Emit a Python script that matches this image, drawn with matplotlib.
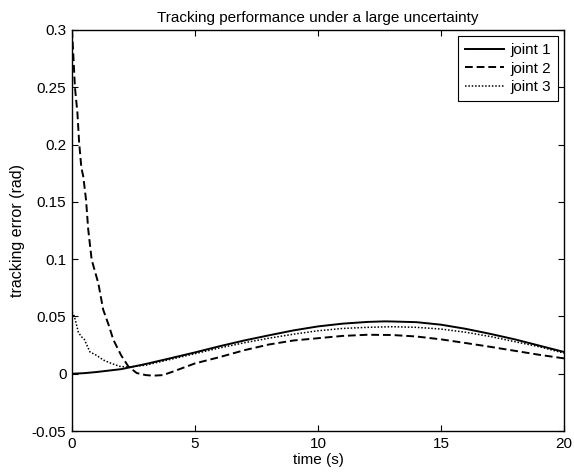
import matplotlib
matplotlib.use("Agg")
import matplotlib.pyplot as plt

plt.rcParams["font.family"] = ["Liberation Sans", "DejaVu Sans"]

# joint 1 (solid)
t1 = [0, 0.5, 1, 2, 3, 4, 5, 6, 7, 8, 9, 10, 11, 12, 12.7, 13, 14, 15, 16, 17, 18, 19, 20]
e1 = [0, 0.0005, 0.0015, 0.004, 0.0085, 0.0135, 0.0186, 0.024, 0.029, 0.0335, 0.0378, 0.0413,
      0.0437, 0.0452, 0.0457, 0.0456, 0.0450, 0.0428, 0.0392, 0.0348, 0.0300, 0.0245, 0.019]

# joint 2 (dashed)
t2 = [0, 0.05, 0.12, 0.22, 0.29, 0.38, 0.46, 0.57, 0.66, 0.8, 1.07, 1.27, 1.5, 1.68, 2.0, 2.29,
      2.63, 3.0, 3.3, 3.7, 4.12, 5, 6, 7, 8, 9, 10, 11, 12, 13, 14, 15, 16, 17, 18, 19, 20]
e2 = [0.3, 0.28, 0.25, 0.228, 0.202, 0.18, 0.172, 0.152, 0.126, 0.0995, 0.079, 0.0558, 0.042,
      0.0297, 0.016, 0.0064, 0.0006, -0.0012, -0.0017, -0.0012, 0.002, 0.009, 0.0145, 0.0205,
      0.0255, 0.029, 0.031, 0.033, 0.034, 0.0338, 0.0325, 0.030, 0.0268, 0.0235, 0.020, 0.0165, 0.0134]

# joint 3 (dotted)
t3 = [0, 0.1, 0.26, 0.4, 0.5, 0.73, 1.0, 1.27, 1.6, 1.95, 2.3, 3, 4, 5, 6, 7, 8, 9, 10, 11, 12,
      13, 14, 15, 16, 17, 18, 19, 20]
e3 = [0.054, 0.05, 0.036, 0.032, 0.030, 0.019, 0.016, 0.012, 0.009, 0.0064, 0.0058, 0.0075, 0.0125,
      0.0175, 0.0225, 0.027, 0.031, 0.0345, 0.0375, 0.0395, 0.0405, 0.041, 0.0405, 0.039, 0.0362,
      0.0325, 0.028, 0.0235, 0.018]

xticks = [0, 5, 10, 15, 20]
yticks = [-0.05, 0, 0.05, 0.1, 0.15, 0.2, 0.25, 0.3]
ylabels = ["-0.05", "0", "0.05", "0.1", "0.15", "0.2", "0.25", "0.3"]

fig = plt.figure(figsize=(5.74, 4.76), dpi=100)
ax = fig.add_axes([0.1254, 0.0945, 0.8572, 0.8425])
ax.plot(t1, e1, color="black", lw=1.4, ls="-", label="joint 1")
ax.plot(t2, e2, color="black", lw=1.4, ls=(0, (4, 2)), label="joint 2")
ax.plot(t3, e3, color="black", lw=1.1, ls=(0, (1, 1.2)), label="joint 3")

ax.set_xlim(0, 20)
ax.set_ylim(-0.05, 0.3)
ax.set_xticks(xticks)
ax.set_yticks(yticks)
ax.set_yticklabels(ylabels)
ax.tick_params(direction="in", top=True, right=True, labelsize=11, length=4, width=0.8, pad=4)
for s in ax.spines.values():
    s.set_linewidth(1.0)
ax.set_xlabel("time (s)", fontsize=11, labelpad=2)
ax.set_ylabel("tracking error (rad)", fontsize=11.5, labelpad=5)
ax.set_title("Tracking performance under a large uncertainty", fontsize=11, pad=6)
leg = ax.legend(loc="upper right", fontsize=11, fancybox=False, edgecolor="black",
                framealpha=1, handlelength=2.5, handletextpad=0.45, borderaxespad=0.4,
                labelspacing=0.3, borderpad=0.45)
leg.get_frame().set_linewidth(0.8)

fig.savefig("out.png", dpi=100)
